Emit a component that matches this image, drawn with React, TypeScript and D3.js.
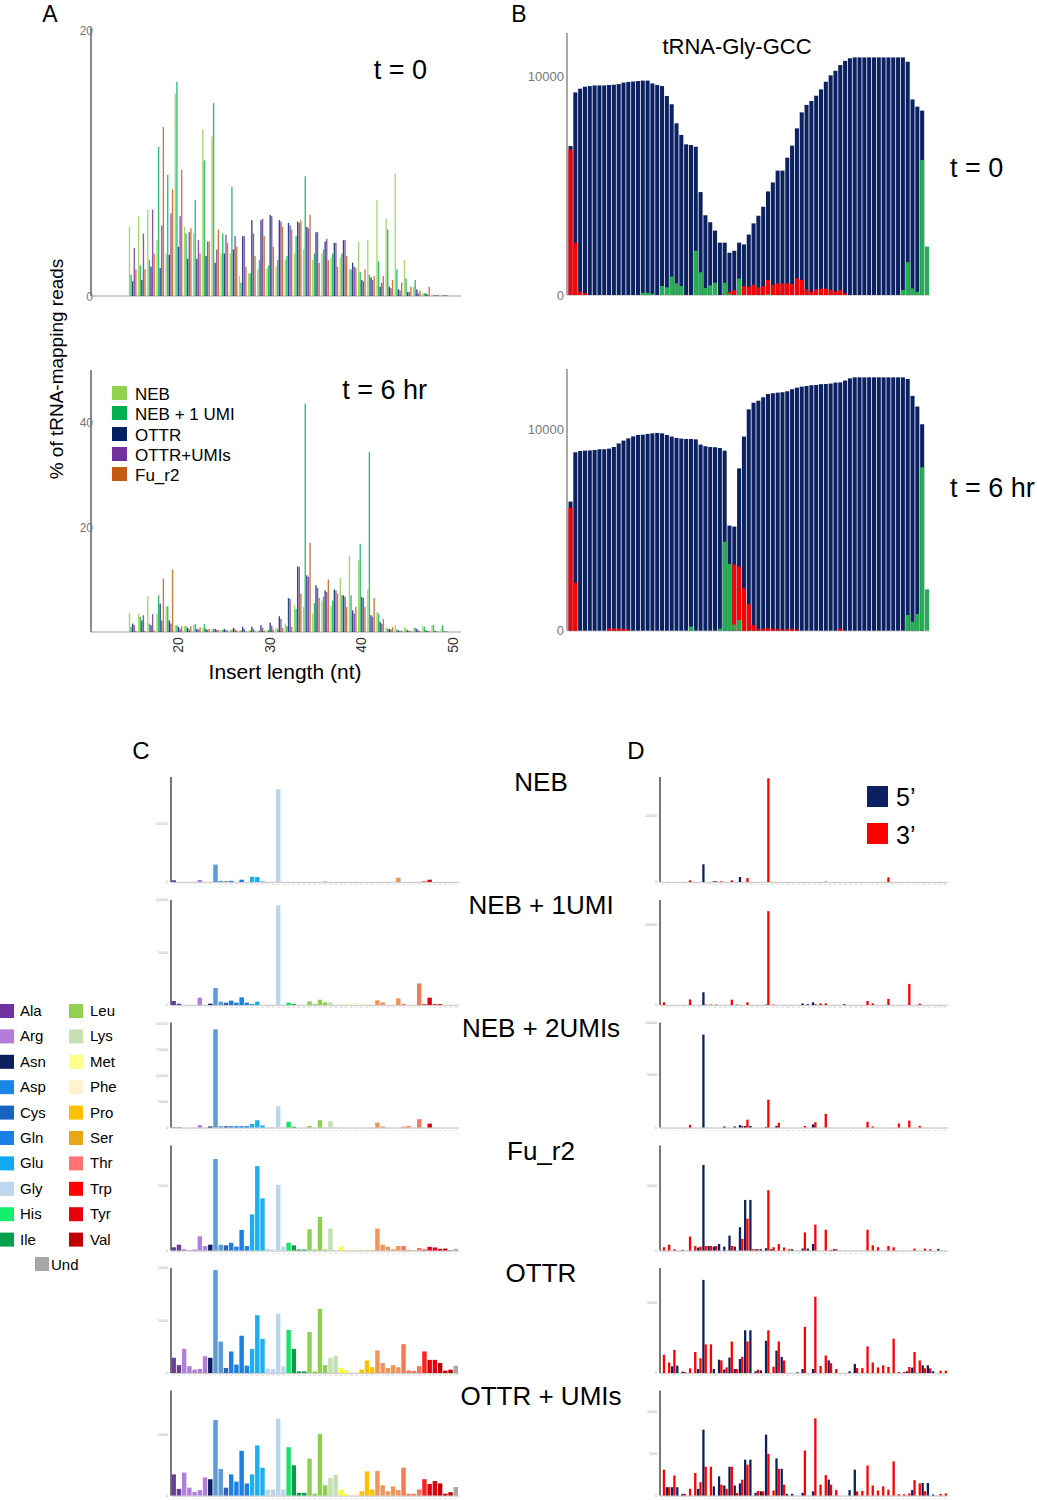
import React from 'react';
import * as d3 from 'd3';

const FONT = '"Liberation Sans", Arial, Helvetica, sans-serif';

// ---------------- Panel A: insert length distribution ----------------
const insertLengths = [15, 16, 17, 18, 19, 20, 21, 22, 23, 24, 25, 26, 27, 28, 29, 30, 31, 32, 33, 34,
  35, 36, 37, 38, 39, 40, 41, 42, 43, 44, 45, 46, 47, 48, 49];
const lengthTicks = [20, 30, 40, 50];
const seriesNames = ['NEB', 'NEB + 1 UMI', 'OTTR', 'OTTR+UMIs', 'Fu_r2'];
const seriesColors = ['#92d050', '#00b050', '#002060', '#7030a0', '#c55a11'];

// t = 0
const t0NEB = [5.2, 6.0, 6.5, 4.2, 3.2, 15.2, 5.2, 4.7, 12.5, 12.0, 3.2, 3.2, 1.5, 1.7, 2.0, 2.1, 2.2, 2.7, 3.2, 3.5,
  2.7, 3.2, 2.9, 2.9, 2.0, 4.1, 4.2, 7.2, 5.8, 9.2, 2.7, 0.7, 0.2, 0.1, 0.05];
const t0NEB1 = [1.6, 2.3, 2.7, 11.2, 9.1, 16.1, 4.7, 7.2, 10.2, 14.5, 4.7, 8.2, 1.0, 1.7, 2.7, 2.3, 2.7, 3.0, 4.5, 9.0,
  3.2, 3.5, 3.2, 3.2, 2.0, 1.8, 1.6, 2.6, 5.0, 2.0, 1.3, 1.2, 0.2, 0.05, 0.05];
const t0OTTR = [1.1, 1.2, 2.2, 2.1, 3.1, 3.7, 2.8, 2.8, 3.0, 2.5, 3.2, 3.5, 4.5, 5.7, 5.7, 6.1, 5.7, 5.5, 5.6, 5.2,
  4.8, 4.1, 4.0, 4.2, 2.5, 1.2, 1.4, 0.7, 0.7, 0.5, 0.3, 0.5, 0.2, 0.05, 0.05];
const t0OTTRU = [3.6, 4.7, 6.5, 5.3, 6.2, 6.0, 4.8, 4.2, 4.1, 3.5, 4.6, 4.5, 4.5, 4.7, 5.8, 6.0, 5.6, 5.3, 5.5, 5.1,
  4.8, 4.3, 4.0, 4.2, 2.2, 1.1, 1.2, 1.0, 0.6, 0.4, 0.3, 0.2, 0.1, 0.05, 0.05];
const t0Fu = [2.0, 2.0, 3.2, 12.7, 8.0, 9.5, 5.1, 3.2, 4.1, 5.0, 4.0, 3.7, 2.2, 3.0, 4.5, 3.7, 5.2, 5.0, 5.7, 6.1,
  2.5, 2.7, 2.2, 3.0, 2.1, 2.0, 1.5, 1.5, 1.2, 1.0, 0.7, 0.4, 0.7, 0.1, 0.05];

// t = 6 hr
const t6NEB = [3.6, 3.5, 6.8, 3.5, 4.9, 1.3, 1.1, 1.3, 0.8, 0.5, 0.4, 0.5, 0.3, 0.3, 0.3, 0.4, 0.8, 1.6, 5.2, 4.8,
  3.5, 6.0, 5.0, 10.3, 14.6, 13.7, 8.1, 3.8, 0.9, 1.3, 0.9, 0.8, 1.1, 1.3, 0.6];
const t6NEB1 = [1.0, 2.9, 1.6, 7.0, 4.9, 1.3, 1.1, 1.5, 1.5, 0.6, 0.4, 0.4, 0.3, 0.3, 0.3, 0.4, 0.6, 1.1, 4.4, 43.5,
  5.5, 6.7, 6.0, 7.0, 7.0, 16.8, 34.3, 3.5, 0.6, 0.5, 0.6, 0.8, 1.0, 1.4, 1.3];
const t6OTTR = [1.6, 2.2, 1.3, 5.4, 2.2, 1.0, 0.8, 0.6, 0.6, 0.6, 0.6, 0.8, 1.0, 1.0, 1.3, 1.8, 3.0, 6.5, 12.5, 10.8,
  8.9, 7.9, 8.1, 7.0, 4.1, 6.7, 3.2, 1.9, 0.6, 0.3, 0.3, 0.6, 0.3, 0.2, 0.1];
const t6OTTRU = [1.3, 3.2, 3.4, 2.2, 1.6, 0.6, 0.5, 0.5, 0.4, 0.4, 0.4, 0.5, 0.6, 0.6, 0.8, 1.2, 2.5, 6.3, 12.4, 10.5,
  8.4, 7.6, 7.9, 6.7, 3.5, 6.5, 2.9, 1.6, 0.5, 0.2, 0.2, 0.3, 0.2, 0.1, 0.1];
const t6Fu = [0.2, 0.2, 0.3, 10.2, 11.9, 1.1, 1.1, 0.9, 0.6, 0.4, 0.3, 0.3, 0.2, 0.2, 0.3, 0.5, 0.8, 1.0, 7.3, 17.0,
  6.5, 10.0, 7.3, 4.8, 4.8, 4.8, 6.5, 2.5, 0.9, 0.3, 0.2, 0.2, 0.2, 0.1, 0.1];

// ---------------- Panel B: tRNA-Gly-GCC coverage ----------------
const NAVY = '#0b2161';
const RED = '#ff0000';
const GREEN = '#21b24e';

const b0Cover = [6800, 9250, 9420, 9510, 9540, 9570, 9570, 9570, 9590, 9600,
  9630, 9700, 9730, 9750, 9770, 9790, 9790, 9660, 9590, 9540,
  9090, 8710, 7840, 7310, 6880, 6850, 6770, 4700, 3640, 3320,
  2940, 2390, 2390, 1930, 2020, 2390, 2310, 2760, 3270, 3620,
  4030, 4730, 5140, 5680, 5680, 6270, 6820, 7610, 8340, 8680,
  8860, 9100, 9390, 9740, 10030, 10240, 10500, 10690, 10810, 10850,
  10850, 10850, 10850, 10850, 10850, 10850, 10850, 10850, 10850, 10850,
  10650, 8930, 8600, 8420, 0];
const b0Three = [6650, 2390, 150, 80, 0, 0, 0, 0, 0, 0,
  0, 0, 0, 0, 0, 0, 0, 0, 0, 0,
  0, 0, 0, 0, 0, 0, 0, 0, 0, 0,
  0, 0, 80, 150, 230, 680, 410, 380, 460, 350,
  410, 690, 460, 530, 530, 530, 500, 760, 690, 260,
  150, 260, 290, 290, 230, 150, 230, 80, 0, 0,
  0, 0, 0, 0, 0, 0, 0, 0, 0, 0,
  0, 0, 0, 0, 0];
const b0Five = [0, 0, 0, 0, 0, 0, 0, 0, 0, 0,
  0, 0, 0, 0, 0, 100, 100, 60, 0, 410,
  350, 840, 530, 410, 0, 0, 2020, 1040, 320, 440,
  560, 0, 560, 60, 0, 750, 0, 0, 0, 0,
  0, 40, 0, 0, 0, 0, 0, 0, 0, 0,
  0, 0, 0, 0, 0, 0, 0, 0, 0, 0,
  0, 0, 0, 0, 0, 0, 0, 0, 0, 230,
  1500, 300, 150, 6160, 2210];

const b6Cover = [6410, 8860, 8920, 8940, 8950, 8970, 9010, 9010, 9040, 9120,
  9300, 9440, 9550, 9650, 9720, 9730, 9770, 9800, 9820, 9800,
  9720, 9640, 9570, 9540, 9520, 9520, 9500, 9240, 9160, 9120,
  9110, 9070, 8940, 5220, 5170, 8060, 9640, 10990, 11320, 11420,
  11590, 11750, 11790, 11820, 11840, 11890, 11990, 12070, 12120, 12150,
  12190, 12200, 12240, 12250, 12270, 12320, 12330, 12420, 12530, 12580,
  12580, 12580, 12580, 12580, 12580, 12580, 12580, 12580, 12580, 12580,
  12500, 11660, 11130, 10250, 0];
const b6Three = [6110, 2380, 0, 0, 0, 0, 0, 0, 100, 120,
  100, 80, 60, 0, 0, 0, 0, 0, 0, 0,
  0, 0, 0, 0, 0, 0, 0, 0, 0, 0,
  0, 0, 0, 0, 3290, 3180, 2100, 1310, 280, 100,
  100, 120, 100, 80, 60, 80, 100, 60, 0, 0,
  0, 0, 0, 0, 0, 0, 100, 0, 0, 0,
  0, 0, 0, 0, 0, 0, 0, 0, 0, 0,
  0, 0, 0, 0, 0];
const b6Five = [0, 0, 0, 0, 0, 0, 0, 0, 0, 0,
  0, 0, 0, 0, 0, 0, 0, 0, 0, 0,
  0, 0, 0, 0, 0, 200, 0, 0, 0, 0,
  0, 100, 4420, 3310, 300, 530, 0, 0, 0, 0,
  0, 0, 0, 0, 0, 0, 0, 0, 0, 0,
  0, 0, 0, 0, 0, 0, 0, 0, 0, 0,
  0, 0, 0, 0, 0, 0, 0, 0, 0, 0,
  780, 450, 830, 8110, 2050];

// ---------------- Panels C / D: isodecoders ----------------
const isoAA = ['Ala', 'Ala', 'Arg', 'Arg', 'Arg', 'Arg', 'Arg', 'Asn', 'Asp', 'Asp',
  'Cys', 'Gln', 'Gln', 'Gln', 'Gln', 'Glu', 'Glu', 'Glu', 'Gly', 'Gly',
  'Gly', 'Gly', 'His', 'Ile', 'Ile', 'Ile', 'Leu', 'Leu', 'Leu', 'Leu',
  'Lys', 'Lys', 'Met', 'Met', 'Phe', 'Phe', 'Pro', 'Pro', 'Pro', 'Ser',
  'Ser', 'Ser', 'Ser', 'Ser', 'Thr', 'Thr', 'Thr', 'Thr', 'Trp', 'Tyr',
  'Tyr', 'Val', 'Val', 'Val', 'Und'];

const legendAA = [['Ala', 'Arg', 'Asn', 'Asp', 'Cys', 'Gln', 'Glu', 'Gly', 'His', 'Ile'],
  ['Leu', 'Lys', 'Met', 'Phe', 'Pro', 'Ser', 'Thr', 'Trp', 'Tyr', 'Val']];

const legendColor: Record<string, string> = {
  Ala: '#7030a0', Arg: '#b57bd9', Asn: '#0a1f5c', Asp: '#1a86e8', Cys: '#1565c0',
  Gln: '#1a7fe6', Glu: '#11aaf0', Gly: '#bdd7ee', His: '#14ef6b', Ile: '#08a04a',
  Leu: '#92d050', Lys: '#c5e0b4', Met: '#ffff8c', Phe: '#fff2cc', Pro: '#ffc000',
  Ser: '#e6a817', Thr: '#ff7373', Trp: '#ff0000', Tyr: '#e8000b', Val: '#c00000', Und: '#a6a6a6',
};
const barColor: Record<string, string> = {
  Ala: '#6a3d9a', Arg: '#b07fdb', Asn: '#0f1f5f', Asp: '#5b9bd5', Cys: '#2f62b5',
  Gln: '#1b7fe3', Glu: '#1eaff0', Gly: '#bcd6ee', His: '#1be06b', Ile: '#0c9a48',
  Leu: '#8fcf50', Lys: '#c5e0b4', Met: '#ffff30', Phe: '#fff2cc', Pro: '#ffc000',
  Ser: '#f0955a', Thr: '#f27a55', Trp: '#ff2020', Tyr: '#e00010', Val: '#c00000', Und: '#a6a6a6',
};

const libraryNames = ['NEB', 'NEB + 1UMI', 'NEB + 2UMIs', 'Fu_r2', 'OTTR', 'OTTR + UMIs'];

// Panel C: reads per isodecoder (relative units of the first y tick)
const cNEB = [0.03, 0, 0, 0, 0, 0.035, 0, 0, 0.30, 0.02,
  0.01, 0.02, 0, 0.04, 0, 0.09, 0.086, 0.01, 0, 0,
  1.60, 0, 0, 0, 0, 0, 0, 0, 0, 0.01,
  0, 0, 0, 0, 0, 0, 0, 0, 0, 0,
  0, 0, 0, 0.075, 0, 0, 0, 0, 0.01, 0.04,
  0, 0, 0, 0, 0];
const cNEB1 = [0.076, 0.025, 0, 0, 0, 0.14, 0, 0.025, 0.325, 0.064,
  0.045, 0.083, 0.045, 0.146, 0.045, 0.02, 0.064, 0, 0, 0,
  1.90, 0, 0.045, 0.015, 0, 0, 0.07, 0.015, 0.10, 0.05,
  0.05, 0, 0, 0.01, 0, 0.045, 0, 0, 0, 0.09,
  0.05, 0, 0, 0.127, 0.02, 0, 0, 0.41, 0.015, 0.14,
  0.015, 0.015, 0, 0, 0];
const cNEB2 = [0.01, 0.01, 0, 0, 0, 0.09, 0, 0.04, 3.78, 0.05,
  0.05, 0.05, 0.05, 0.05, 0.05, 0.14, 0.28, 0.08, 0, 0,
  0.82, 0.03, 0.22, 0.03, 0, 0, 0.06, 0, 0.28, 0,
  0.24, 0.01, 0, 0, 0, 0, 0, 0, 0, 0.19,
  0.04, 0, 0, 0, 0.03, 0.05, 0, 0.32, 0, 0.15,
  0, 0, 0, 0, 0];
const cFu = [0.05, 0.09, 0.02, 0.005, 0.015, 0.22, 0.07, 0.09, 1.42, 0.09,
  0.08, 0.12, 0.06, 0.32, 0.07, 0.56, 1.31, 0.81, 0.026, 0.016,
  1.02, 0.06, 0.12, 0.08, 0.016, 0.016, 0.33, 0.016, 0.52, 0.016,
  0.34, 0.005, 0.06, 0.005, 0.005, 0.005, 0.005, 0.005, 0.005, 0.34,
  0.09, 0.06, 0.02, 0.07, 0.07, 0.01, 0.005, 0.04, 0.016, 0.057,
  0.047, 0.026, 0.03, 0.005, 0.026];
const cOTTR = [0.29, 0.15, 0.46, 0.13, 0.064, 0.076, 0.32, 0.29, 1.96, 0.6,
  0.096, 0.41, 0.16, 0.71, 0.14, 0.46, 1.1, 0.65, 0.083, 0.076,
  1.13, 0.13, 0.82, 0.46, 0.03, 0.03, 0.78, 0.03, 1.22, 0.15,
  0.29, 0.33, 0.1, 0.05, 0.005, 0.03, 0.064, 0.24, 0.11, 0.43,
  0.19, 0.096, 0.15, 0.11, 0.55, 0.05, 0.04, 0.13, 0.41, 0.25,
  0.25, 0.19, 0.045, 0.064, 0.14];
const cOTTRU = [0.35, 0.11, 0.38, 0.13, 0.06, 0.09, 0.3, 0.27, 1.25, 0.44,
  0.13, 0.35, 0.23, 0.74, 0.2, 0.35, 0.83, 0.46, 0.1, 0.1,
  1.27, 0.1, 0.8, 0.5, 0.044, 0.044, 0.61, 0.03, 1.02, 0.17,
  0.29, 0.34, 0.1, 0.03, 0.005, 0.03, 0.07, 0.4, 0.1, 0.41,
  0.17, 0.07, 0.15, 0.09, 0.46, 0.03, 0.03, 0.1, 0.27, 0.19,
  0.24, 0.2, 0.03, 0.055, 0.14];

// Panel D: 5' and 3' fragments per isodecoder
const dNEB5 = [0, 0, 0, 0, 0, 0, 0, 0, 0.27, 0,
  0.01, 0, 0, 0, 0, 0.076, 0, 0, 0, 0,
  0, 0, 0, 0, 0, 0, 0, 0, 0, 0,
  0, 0, 0, 0, 0, 0, 0, 0, 0, 0,
  0, 0, 0, 0, 0, 0, 0, 0, 0, 0,
  0, 0, 0, 0, 0];
const dNEB3 = [0, 0, 0, 0, 0, 0.025, 0, 0, 0, 0,
  0.01, 0.01, 0, 0.025, 0, 0, 0.06, 0, 0, 0,
  1.58, 0, 0, 0, 0, 0, 0, 0, 0, 0,
  0, 0.005, 0, 0, 0, 0, 0, 0, 0, 0,
  0, 0, 0, 0.07, 0, 0, 0, 0, 0, 0,
  0, 0, 0, 0, 0];
const dNEB1_5 = [0, 0, 0, 0, 0, 0, 0, 0, 0.16, 0,
  0, 0, 0, 0, 0, 0, 0, 0, 0, 0,
  0.005, 0, 0, 0, 0, 0, 0, 0.02, 0.01, 0.034,
  0, 0, 0, 0, 0, 0.01, 0, 0, 0, 0,
  0, 0, 0, 0, 0, 0, 0, 0, 0, 0,
  0, 0, 0, 0, 0];
const dNEB1_3 = [0.034, 0, 0, 0, 0, 0.07, 0, 0, 0.005, 0.005,
  0.005, 0, 0, 0.067, 0.005, 0, 0.034, 0, 0, 0,
  1.18, 0.005, 0, 0, 0, 0, 0, 0, 0, 0.01,
  0.02, 0.02, 0, 0, 0, 0, 0, 0, 0, 0.05,
  0.02, 0, 0, 0.076, 0, 0, 0, 0.265, 0, 0.017,
  0, 0, 0, 0, 0];
const dNEB2_5 = [0, 0, 0, 0, 0, 0, 0, 0, 1.77, 0,
  0, 0, 0.02, 0, 0.02, 0.045, 0.03, 0.03, 0, 0,
  0.01, 0, 0.03, 0, 0, 0, 0, 0, 0, 0.06,
  0, 0, 0, 0, 0, 0, 0, 0, 0, 0,
  0, 0, 0, 0, 0, 0, 0, 0, 0, 0,
  0, 0, 0, 0, 0];
const dNEB2_3 = [0, 0, 0, 0, 0, 0.05, 0, 0, 0, 0,
  0, 0, 0, 0, 0, 0.03, 0.15, 0, 0, 0,
  0.53, 0, 0.09, 0, 0, 0, 0, 0.03, 0, 0.1,
  0, 0.26, 0, 0, 0, 0, 0, 0, 0, 0.11,
  0.02, 0, 0, 0, 0, 0.076, 0, 0.13, 0, 0.03,
  0, 0, 0, 0, 0];
const dFu5 = [0, 0, 0, 0, 0.01, 0, 0, 0.046, 1.32, 0.07,
  0.06, 0.1, 0.06, 0.23, 0.06, 0.36, 0.78, 0.78, 0.02, 0.02,
  0.036, 0.02, 0, 0, 0, 0.02, 0, 0.03, 0.03, 0.1,
  0, 0, 0, 0.02, 0, 0, 0, 0, 0, 0,
  0, 0, 0, 0, 0, 0, 0, 0, 0, 0,
  0, 0, 0, 0.025, 0];
const dFu3 = [0.05, 0.09, 0.02, 0, 0, 0.215, 0.067, 0.06, 0.07, 0.07,
  0.07, 0, 0, 0.07, 0, 0.18, 0.49, 0.02, 0.02, 0,
  0.93, 0.05, 0.1, 0.046, 0.02, 0, 0, 0.28, 0, 0.4,
  0, 0.32, 0.01, 0.02, 0, 0, 0, 0, 0, 0.32,
  0.08, 0.05, 0, 0.07, 0.05, 0, 0, 0, 0.03, 0,
  0.03, 0.02, 0, 0, 0];
const dOTTR5 = [0, 0, 0.095, 0.105, 0.02, 0, 0, 0.057, 1.33, 0,
  0.057, 0.19, 0.05, 0.22, 0.057, 0.2, 0.61, 0.61, 0.024, 0.038,
  0.46, 0, 0.32, 0.23, 0, 0, 0.01, 0.057, 0, 0.057,
  0, 0, 0.18, 0, 0, 0, 0.024, 0.13, 0, 0,
  0, 0, 0, 0, 0, 0, 0, 0.024, 0.076, 0,
  0.11, 0.11, 0.024, 0, 0];
const dOTTR3 = [0.26, 0.15, 0.33, 0, 0.014, 0.067, 0.30, 0.21, 0.41, 0.41,
  0, 0.18, 0.08, 0.45, 0.057, 0.23, 0.45, 0, 0.048, 0,
  0.61, 0.09, 0.45, 0.18, 0, 0, 0, 0.66, 0, 1.09,
  0.1, 0.25, 0.14, 0.057, 0, 0, 0, 0.07, 0.07, 0.38,
  0.15, 0.08, 0.11, 0.086, 0.49, 0.014, 0.014, 0.086, 0.3, 0.18,
  0.067, 0.067, 0, 0.033, 0.033];
const dOTTRU5 = [0, 0.2, 0.2, 0.2, 0.04, 0, 0, 0.16, 1.58, 0,
  0.22, 0.46, 0.24, 0.69, 0.24, 0.29, 0.86, 0.86, 0.064, 0.1,
  1.46, 0, 0.89, 0.64, 0.04, 0.04, 0, 0.064, 0, 0.1,
  0, 0, 0.38, 0, 0, 0, 0.13, 0.62, 0, 0,
  0, 0, 0, 0, 0, 0, 0, 0, 0.13, 0,
  0.3, 0.3, 0.024, 0, 0];
const dOTTRU3 = [0.62, 0.2, 0.48, 0, 0.04, 0.16, 0.54, 0.32, 0.69, 0.69,
  0, 0.26, 0.16, 0.69, 0.06, 0.38, 0.74, 0, 0.11, 0.1,
  1.0, 0.12, 0.64, 0.26, 0, 0, 0, 1.08, 0, 1.85,
  0.26, 0.49, 0.26, 0.13, 0, 0, 0, 0.1, 0.11, 0.72,
  0.24, 0.12, 0.22, 0.14, 0.82, 0.03, 0.03, 0.05, 0.37, 0.29,
  0.1, 0, 0, 0.04, 0.05];

const cRows = [cNEB, cNEB1, cNEB2, cFu, cOTTR, cOTTRU];
const cTickLabels = [['0', '100000'], ['0', '50000', '100000'], ['0', '50000', '100000', '150000', '200000'],
  ['0', '20000'], ['0', '10000', '20000'], ['0', '10000']];
const dRows5 = [dNEB5, dNEB1_5, dNEB2_5, dFu5, dOTTR5, dOTTRU5];
const dRows3 = [dNEB3, dNEB1_3, dNEB2_3, dFu3, dOTTR3, dOTTRU3];
const dTickLabels = [['0', '100000'], ['0', '100000'], ['0', '50000', '100000'],
  ['0', '10000'], ['0', '10000'], ['0', '5000', '10000']];

// layout (pixels)
const rowBase = [882, 1005, 1127.5, 1250.5, 1373, 1495.5];
const cRowMax = [1.81, 2.0, 4.04, 1.63, 2.0, 1.74];
const dRowMax = [1.6, 1.32, 2.0, 1.62, 1.5, 2.52];
const ROW_H = 105;

// ---------- components ----------
function LengthChart({ data, base, top, max, tickVals, axisTop, showX }: any) {
  const x = d3.scaleLinear().domain([15, 50]).range([132.8, 453.6]);
  const y = d3.scaleLinear().domain([0, max]).range([base, top]);
  const bw = 1.6;
  return (
    <g>
      <line x1={91} x2={461} y1={base} y2={base} stroke="#cfcfcf" strokeWidth={2} />
      {data.map((vals: number[], s: number) =>
        vals.map((v, i) => (
          <rect key={`${s}-${i}`} x={x(insertLengths[i]) - 4 + s * bw} width={bw * 0.85}
            y={y(v)} height={base - y(v)} fill={seriesColors[s]} opacity={0.82} />
        )))}
      <line x1={91} x2={91} y1={axisTop} y2={base} stroke="#8a8a8a" strokeWidth={2} />
      {tickVals.map((t: number) => (
        <text key={t} x={93} y={y(t) + 4.5} textAnchor="end" fontSize={12} fill="#777">{t}</text>
      ))}
      {showX && lengthTicks.map((t) => (
        <text key={t} transform={`translate(${x(t) + 4.5},645) rotate(-90)`} textAnchor="middle"
          fontSize={14} fill="#333">{t}</text>
      ))}
    </g>
  );
}

function CoverageChart({ cover, three, five, base, y10k, axisTop }: any) {
  const x = d3.scaleBand<number>().domain(cover.map((_: number, i: number) => i))
    .range([568.5, 929]).paddingInner(0.16);
  const y = d3.scaleLinear().domain([0, 10000]).range([base, y10k]);
  const bars = (vals: number[], fill: string) =>
    vals.map((v, i) => v > 0 ? (
      <rect key={fill + i} x={x(i)} width={x.bandwidth()} y={y(v)} height={base - y(v)} fill={fill} />
    ) : null);
  return (
    <g>
      <line x1={567} x2={930} y1={base + 0.5} y2={base + 0.5} stroke="#d5d5d5" />
      {bars(cover, NAVY)}
      {bars(three, RED)}
      {bars(five, GREEN)}
      <line x1={567} x2={567} y1={axisTop} y2={base} stroke="#8c8c8c" strokeWidth={1.5} />
      {[0, 10000].map((t) => (
        <text key={t} x={564} y={y(t) + 4.5} textAnchor="end" fontSize={13} fill="#777">{t}</text>
      ))}
    </g>
  );
}

function IsoAxes({ x0, x1, base, max, labels }: any) {
  const y = d3.scaleLinear().domain([0, max]).range([base, base - ROW_H]);
  const band = d3.scaleBand<number>().domain(isoAA.map((_, i) => i)).range([x0 + 0.5, x1]).paddingInner(0.15);
  return (
    <g>
      <line x1={x0} x2={x1 + 1} y1={base + 0.5} y2={base + 0.5} stroke="#cfcfcf" strokeWidth={1.5} />
      <line x1={x0} x2={x0} y1={base - ROW_H} y2={base} stroke="#777" strokeWidth={2} />
      {labels.map((l: string, k: number) => (
        <text key={k} x={x0 - 3} y={y(k) + 1} textAnchor="end" fontSize={3.6} fill="#aaa">{l}</text>
      ))}
      {isoAA.map((_, i) => (
        <text key={i} x={(band(i) as number) + band.bandwidth() / 2} y={base + 3.2} textAnchor="middle"
          fontSize={2.3} fill="#bbb">{i + 1}</text>
      ))}
    </g>
  );
}

function IsoRowC({ vals, base, max, labels }: any) {
  const x0 = 171, x1 = 458;
  const x = d3.scaleBand<number>().domain(isoAA.map((_, i) => i)).range([x0 + 0.5, x1]).paddingInner(0.15);
  const y = d3.scaleLinear().domain([0, max]).range([base, base - ROW_H]);
  return (
    <g>
      <IsoAxes x0={x0} x1={x1} base={base} max={max} labels={labels} />
      {vals.map((v: number, i: number) => v > 0 ? (
        <rect key={i} x={x(i)} width={x.bandwidth()} y={y(v)} height={base - y(v)} fill={barColor[isoAA[i]]} />
      ) : null)}
    </g>
  );
}

function IsoRowD({ five, three, base, max, labels }: any) {
  const x0 = 660, x1 = 947;
  const x = d3.scaleBand<number>().domain(isoAA.map((_, i) => i)).range([x0 + 0.5, x1]).paddingInner(0.12);
  const y = d3.scaleLinear().domain([0, max]).range([base, base - ROW_H]);
  const half = x.bandwidth() / 2;
  return (
    <g>
      <IsoAxes x0={x0} x1={x1} base={base} max={max} labels={labels} />
      {five.map((v: number, i: number) => v > 0 ? (
        <rect key={'n' + i} x={x(i)} width={half} y={y(v)} height={base - y(v)} fill={NAVY} />
      ) : null)}
      {three.map((v: number, i: number) => v > 0 ? (
        <rect key={'r' + i} x={(x(i) as number) + half} width={half} y={y(v)} height={base - y(v)} fill={RED} />
      ) : null)}
    </g>
  );
}

export default function App() {
  const legendRows = [386, 406, 427, 447, 467];
  return (
    <svg width={1037} height={1500} style={{ position: 'absolute', left: 0, top: 0, background: '#fff' }}
      fontFamily={FONT}>
      <rect width={1037} height={1500} fill="#fff" />

      {/* panel letters */}
      <text x={50} y={22} fontSize={23} textAnchor="middle">A</text>
      <text x={519} y={22} fontSize={23} textAnchor="middle">B</text>
      <text x={141} y={759} fontSize={24} textAnchor="middle">C</text>
      <text x={636} y={759} fontSize={24} textAnchor="middle">D</text>

      {/* Panel A */}
      <LengthChart data={[t0NEB, t0NEB1, t0OTTR, t0OTTRU, t0Fu]} base={296} top={30} max={20}
        tickVals={[0, 20]} axisTop={28} showX={false} />
      <LengthChart data={[t6NEB, t6NEB1, t6OTTR, t6OTTRU, t6Fu]} base={632} top={422} max={40}
        tickVals={[20, 40]} axisTop={370} showX={true} />
      <text x={427} y={79} fontSize={27} textAnchor="end">t = 0</text>
      <text x={427} y={399} fontSize={27} textAnchor="end">t = 6 hr</text>
      <text transform="translate(63,369) rotate(-90)" fontSize={19} textAnchor="middle">% of tRNA-mapping reads</text>
      <text x={285} y={679} fontSize={21} textAnchor="middle">Insert length (nt)</text>
      {seriesNames.map((n, k) => (
        <g key={n}>
          <rect x={112} y={legendRows[k]} width={15} height={14} fill={seriesColors[k]} />
          <text x={135} y={legendRows[k] + 14} fontSize={17}>{n}</text>
        </g>
      ))}

      {/* Panel B */}
      <CoverageChart cover={b0Cover} three={b0Three} five={b0Five} base={295} y10k={76} axisTop={33} />
      <CoverageChart cover={b6Cover} three={b6Three} five={b6Five} base={630.7} y10k={429.3} axisTop={369} />
      <text x={737} y={54} fontSize={22} textAnchor="middle">tRNA-Gly-GCC</text>
      <text x={950} y={177} fontSize={27}>t = 0</text>
      <text x={950} y={497} fontSize={27}>t = 6 hr</text>

      {/* Panel C */}
      {cRows.map((vals, r) => (
        <IsoRowC key={r} vals={vals} base={rowBase[r]} max={cRowMax[r]} labels={cTickLabels[r]} />
      ))}
      {/* Panel D */}
      {dRows5.map((five, r) => (
        <IsoRowD key={r} five={five} three={dRows3[r]} base={rowBase[r]} max={dRowMax[r]} labels={dTickLabels[r]} />
      ))}
      {libraryNames.map((n, r) => (
        <text key={n} x={541} y={rowBase[r] - 91} fontSize={26} textAnchor="middle">{n}</text>
      ))}
      <rect x={867} y={786} width={21} height={21} fill={NAVY} />
      <rect x={867} y={823} width={21} height={21} fill={RED} />
      <text x={896} y={806} fontSize={25}>5’</text>
      <text x={896} y={844} fontSize={25}>3’</text>

      {/* amino acid legend */}
      {legendAA.map((col, c) => col.map((aa, k) => (
        <g key={aa}>
          <rect x={c === 0 ? 0 : 69} y={1004 + 25.4 * k} width={14} height={14} fill={legendColor[aa]} />
          <text x={c === 0 ? 20 : 90} y={1016 + 25.4 * k} fontSize={15}>{aa}</text>
        </g>
      )))}
      <rect x={35} y={1257} width={14} height={14} fill={legendColor.Und} />
      <text x={51} y={1270} fontSize={15}>Und</text>
    </svg>
  );
}
